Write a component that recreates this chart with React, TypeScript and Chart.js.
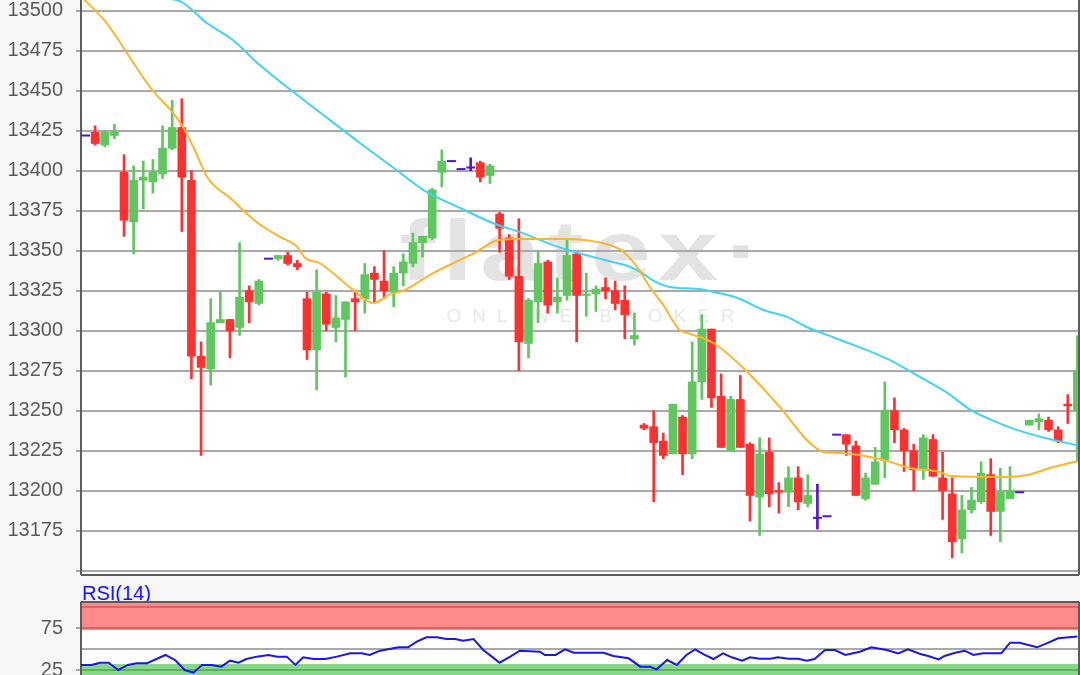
import React, { useEffect, useRef } from 'react';
import { Chart, registerables } from 'chart.js';

Chart.register(...registerables);

// ---------- data ----------
const OPEN = [
  13422, 13424, 13416, 13422, 13399, 13368, 13394, 13393, 13398, 13414,
  13427, 13394, 13284, 13276, 13305, 13307, 13302, 13325, 13317, 13345,
  13345, 13347, 13342, 13320, 13288, 13323, 13302, 13307, 13320, 13320,
  13336, 13331, 13324, 13336, 13342, 13355, 13358, 13399, 13406, 13401,
  13402, 13405, 13397, 13373, 13358, 13334, 13292, 13318, 13343, 13318,
  13322, 13348, 13322, 13323, 13327, 13325, 13319, 13295, 13241, 13240,
  13231, 13223, 13246, 13223, 13268, 13301, 13259, 13225, 13257, 13229,
  13196, 13224, 13200, 13199, 13208, 13192, 13183, 13184, 13235, 13235,
  13228, 13195, 13204, 13219, 13250, 13238, 13225, 13213, 13232, 13208,
  13198, 13170, 13188, 13193, 13210, 13187, 13195, 13199, 13241, 13243,
  13244, 13238, 13254, 13250,
];
const HIGH = [
  13422, 13428, 13425, 13429, 13410, 13403, 13406, 13407, 13428, 13444,
  13445, 13400, 13293, 13320, 13324, 13307, 13355, 13328, 13332, 13345,
  13347, 13349, 13344, 13324, 13338, 13324, 13322, 13318, 13324, 13342,
  13340, 13350, 13340, 13348, 13361, 13359, 13389, 13413, 13406, 13401,
  13408, 13406, 13404, 13374, 13360, 13370, 13320, 13350, 13344, 13333,
  13357, 13349, 13336, 13328, 13333, 13331, 13328, 13311, 13242, 13250,
  13236, 13254, 13247, 13293, 13310, 13301, 13273, 13259, 13272, 13230,
  13233, 13233, 13205, 13215, 13215, 13210, 13204, 13184, 13235, 13235,
  13231, 13211, 13227, 13268, 13258, 13239, 13229, 13235, 13235, 13224,
  13208, 13197, 13202, 13218, 13220, 13214, 13215, 13199, 13244, 13248,
  13246, 13240, 13260, 13297,
];
const LOW = [
  13422, 13416, 13415, 13420, 13359, 13348, 13376, 13386, 13395, 13413,
  13362, 13270, 13222, 13266, 13305, 13283, 13297, 13305, 13316, 13345,
  13344, 13341, 13338, 13282, 13263, 13300, 13293, 13271, 13300, 13311,
  13318, 13320, 13315, 13328, 13340, 13346, 13357, 13390, 13406, 13401,
  13400, 13393, 13392, 13349, 13332, 13275, 13283, 13305, 13311, 13311,
  13319, 13293, 13309, 13312, 13320, 13313, 13295, 13291, 13238, 13193,
  13220, 13223, 13210, 13220, 13257, 13252, 13227, 13225, 13227, 13181,
  13172, 13190, 13186, 13190, 13188, 13190, 13176, 13184, 13235, 13222,
  13197, 13194, 13204, 13208, 13230, 13212, 13200, 13207, 13209, 13182,
  13158, 13161, 13186, 13192, 13172, 13168, 13195, 13199, 13241, 13238,
  13237, 13230, 13242, 13218,
];
const CLOSE = [
  13422, 13417, 13424, 13424, 13369, 13394, 13396, 13399, 13414, 13427,
  13396, 13284, 13277, 13305, 13307, 13300, 13321, 13318, 13331, 13345,
  13347, 13342, 13340, 13288, 13324, 13304, 13308, 13318, 13318, 13335,
  13332, 13325, 13336, 13343, 13355, 13359, 13388, 13406, 13406, 13401,
  13402, 13396, 13403, 13364, 13334, 13293, 13319, 13342, 13316, 13321,
  13347, 13322, 13323, 13326, 13325, 13317, 13310, 13297, 13239, 13230,
  13222, 13254, 13223, 13268, 13301, 13258, 13227, 13257, 13227, 13197,
  13223, 13198, 13199, 13208, 13193, 13197, 13183, 13184, 13235, 13229,
  13197, 13208, 13218, 13250, 13238, 13225, 13213, 13233, 13209, 13200,
  13168, 13188, 13194, 13211, 13187, 13199, 13200, 13199, 13244, 13245,
  13238, 13231, 13253, 13275,
];

// moving averages: candle index positions and values
const MA_FAST_X = [-0.3, 2.2, 4.3, 6.7, 9.1, 10, 11.2, 12.7, 15.3, 16, 17.9, 20.2, 22, 22.8, 24.3, 27.8, 29.9, 31.6, 33, 36.1, 38.9, 40.4, 42.9, 45.4, 50, 53.1, 55.6, 57.2, 58.6, 60, 61.7, 62.5, 65.2, 68.3, 72.1, 74.9, 76.6, 78.4, 82.5, 85.6, 88.7, 89.8, 95.7, 97.8, 100.5, 103.1];
const MA_FAST_Y = [13508, 13492.3, 13473.6, 13452.3, 13436, 13428.5, 13414.8, 13395.4, 13381.6, 13377.3, 13367.3, 13358.6, 13352.3, 13345.5, 13342.3, 13325.5, 13317.3, 13322.7, 13325, 13336, 13344.2, 13348.6, 13356.7, 13357.3, 13357.3, 13355.5, 13350.5, 13340.5, 13327.3, 13316, 13300.4, 13298.6, 13292.3, 13276.7, 13252.3, 13231.7, 13224.2, 13223.6, 13219.8, 13214.2, 13211.7, 13209.2, 13208.6, 13209.8, 13214.8, 13218.5];
const MA_SLOW_X = [7.5, 9.8, 12.6, 15.3, 18.1, 25.4, 28.5, 32.3, 35.1, 38.9, 42.4, 45.4, 48.5, 50.6, 53.9, 56.4, 57.6, 59.1, 60.7, 63.7, 65.2, 67.7, 70.6, 72.85, 74.9, 78.4, 83.5, 85.9, 89.5, 91.9, 93.6, 96.7, 100.5, 103.1];
const MA_SLOW_Y = [13508, 13506, 13492.3, 13481.7, 13466, 13431.6, 13417.3, 13400.4, 13387.9, 13376.7, 13367, 13361, 13353.6, 13349.5, 13344.2, 13340.3, 13336.7, 13330.8, 13327.3, 13326, 13324.2, 13320.4, 13312.5, 13308.6, 13302.3, 13294.2, 13281.7, 13273.6, 13261.1, 13250.5, 13245.5, 13238, 13231.7, 13228.3];

// RSI(14)
const RSI_X = [-0.6, 0.6, 1.5, 2.4, 3.4, 4.4, 5.3, 6.4, 8.3, 9.3, 10.3, 11.2, 12.1, 13.1, 14.1, 15, 15.9, 16.7, 17.8, 19, 19.9, 20.9, 21.8, 22.6, 23.7, 24.9, 26.1, 27.5, 28.7, 29.5, 30.6, 32.5, 33.5, 34.4, 35.4, 36.5, 37.5, 38.4, 39.2, 40.3, 41.3, 42.2, 43, 44.1, 45.1, 47.2, 47.7, 48.8, 49.8, 50.7, 53.8, 54.8, 56.4, 57.6, 58.6, 59.3, 60.4, 61.4, 62.4, 63.3, 64.2, 65.2, 66.2, 67.1, 68.2, 69, 70, 71.1, 71.9, 73, 74, 74.9, 75.7, 76.8, 77.8, 78.9, 80.4, 81.6, 83.2, 84.4, 85.4, 86.7, 87.5, 88.6, 89.2, 90.3, 91.3, 92.2, 93.2, 95.1, 96, 97, 98.8, 99.8, 101, 103];
const RSI_Y = [31, 31, 33.7, 33.7, 25, 31, 33, 33, 42.9, 36.9, 25, 21.8, 31, 31, 29, 36.1, 33.7, 38.1, 40.9, 42.9, 40.9, 40.9, 31, 40.1, 38.1, 38.1, 40.9, 44.8, 44.8, 42.9, 48, 52, 52, 58.7, 63.9, 63.9, 61.9, 61.9, 59.9, 61.9, 48.8, 40.9, 33.7, 40.9, 48, 46.8, 42.9, 42.9, 49.6, 45.6, 45.6, 41.7, 38.9, 29, 29, 25.8, 36.9, 31, 42.9, 49.6, 43.7, 38.1, 44.8, 40.1, 36.1, 40.1, 38.5, 38.5, 40.1, 38.5, 38.5, 36.1, 38.1, 48.8, 48.8, 42.9, 46.8, 52, 48.8, 44.8, 49.6, 44.1, 41.7, 37.7, 41.7, 45.6, 48, 42.9, 44.8, 44.8, 57.5, 57.5, 52, 56.7, 62.7, 65];

const PRICE_TICKS = [13150, 13175, 13200, 13225, 13250, 13275, 13300, 13325, 13350, 13375, 13400, 13425, 13450, 13475, 13500];
const PRICE_HIDDEN_LABEL = 13150;
const RSI_TICKS = [25, 50, 75];
const RSI_HIDDEN_LABEL = 50;
const RSI_OVERBOUGHT = 75;
const RSI_TOP_LINE = 100;
const RSI_OVERSOLD = 25;
const RSI_OB_FILL_FROM = 72.6;
const RSI_OS_FILL_TO = 32.1;

// ---------- view ranges / styles ----------
const X_MIN = -0.467;
const X_MAX = 103.06;
const PRICE_MIN = 13147.9;
const PRICE_MAX = 13506.7;
const RSI_MIN = 19.05;
const RSI_MAX = 104.76;

const UP = '#5ec75e';
const DOWN = '#ff3030';
const DOJI = '#5214d4';
const ORANGE = '#ffb42a';
const CYAN = '#3fd3f4';
const RSI_BLUE = '#1717ee';
const GRID = '#a9a9a9';
const AXIS = '#5c5c5c';
const LABEL = '#5a5a5a';
const FONT = "'Liberation Sans', Arial, sans-serif";

const idx = OPEN.map((_, i) => i);
const candleColor = (i: number) =>
  CLOSE[i] > OPEN[i] ? UP : CLOSE[i] < OPEN[i] ? DOWN : DOJI;

function fitSpaced(ctx: CanvasRenderingContext2D, text: string, x: number, y: number, width: number, sx = 1) {
  ctx.save();
  ctx.translate(x, y);
  ctx.scale(sx, 1);
  (ctx as any).letterSpacing = '0px';
  const w0 = ctx.measureText(text).width;
  const ls = (width / sx - w0) / Math.max(1, text.length - 1);
  (ctx as any).letterSpacing = ls + 'px';
  ctx.fillText(text, 0, 0);
  ctx.restore();
}

const priceDecor = {
  id: 'priceDecor',
  beforeDraw(chart: any) {
    const { ctx, chartArea: a } = chart;
    ctx.save();
    ctx.fillStyle = '#ffffff';
    ctx.fillRect(a.left, a.top, a.right - a.left, a.bottom - a.top);
    const cx = (a.left + a.right) / 2;
    const cy = (a.top + a.bottom) / 2;
    ctx.textAlign = 'left';
    ctx.textBaseline = 'alphabetic';
    ctx.fillStyle = '#e3e3e3';
    ctx.font = `bold 86px ${FONT}`;
    fitSpaced(ctx, 'flatex·', cx - 180, cy - 7, 362, 1.25);
    ctx.fillStyle = '#e8e8e8';
    ctx.font = `19px ${FONT}`;
    ctx.textBaseline = 'middle';
    fitSpaced(ctx, 'ONLINE BROKER', cx - 133, cy + 30, 288);
    ctx.restore();
  },
  afterDraw(chart: any) {
    const { ctx, chartArea: a } = chart;
    ctx.save();
    ctx.strokeStyle = AXIS;
    ctx.lineWidth = 2;
    ctx.beginPath();
    ctx.moveTo(a.left, a.bottom + 1);
    ctx.lineTo(a.right + 1, a.bottom + 1);
    ctx.moveTo(a.right + 1, a.top);
    ctx.lineTo(a.right + 1, a.bottom + 1);
    ctx.stroke();
    ctx.restore();
  },
};

const rsiDecor = {
  id: 'rsiDecor',
  beforeDraw(chart: any) {
    const { ctx, chartArea: a, scales } = chart;
    const y = scales.y;
    ctx.save();
    ctx.fillStyle = '#ffffff';
    ctx.fillRect(a.left, a.top, a.right - a.left, a.bottom - a.top);
    ctx.fillStyle = '#ff8a8a';
    const obY = y.getPixelForValue(RSI_OB_FILL_FROM);
    ctx.fillRect(a.left, a.top, a.right - a.left, obY - a.top);
    ctx.fillStyle = '#88d688';
    const osY = y.getPixelForValue(RSI_OS_FILL_TO);
    ctx.fillRect(a.left, osY, a.right - a.left, a.bottom - osY);
    ctx.lineWidth = 2;
    ctx.strokeStyle = '#dc6464';
    ctx.beginPath();
    [RSI_TOP_LINE, RSI_OVERBOUGHT].forEach((v) => {
      const p = Math.round(y.getPixelForValue(v));
      ctx.moveTo(a.left, p);
      ctx.lineTo(a.right, p);
    });
    ctx.stroke();
    ctx.strokeStyle = '#5cb35c';
    ctx.beginPath();
    const p25 = Math.round(y.getPixelForValue(RSI_OVERSOLD));
    ctx.moveTo(a.left, p25);
    ctx.lineTo(a.right, p25);
    ctx.stroke();
    ctx.restore();
  },
  afterDraw(chart: any) {
    const { ctx, chartArea: a } = chart;
    ctx.save();
    ctx.strokeStyle = AXIS;
    ctx.lineWidth = 2;
    ctx.beginPath();
    ctx.moveTo(a.left, a.top - 1);
    ctx.lineTo(a.right + 1, a.top - 1);
    ctx.moveTo(a.right + 1, a.top - 1);
    ctx.lineTo(a.right + 1, a.bottom);
    ctx.stroke();
    ctx.restore();
  },
};

export default function App() {
  const priceRef = useRef<HTMLCanvasElement>(null);
  const rsiRef = useRef<HTMLCanvasElement>(null);

  useEffect(() => {
    const colors = idx.map(candleColor);
    const wicks = idx.map((i) => ({ x: i, y: [LOW[i], HIGH[i]] }));
    const bodyIdx = idx.filter((i) => OPEN[i] !== CLOSE[i]);
    const bodies = bodyIdx.map((i) => ({ x: i, y: [OPEN[i], CLOSE[i]] }));
    const bodyColors = bodyIdx.map(candleColor);
    const dojis = idx.filter((i) => OPEN[i] === CLOSE[i]).map((i) => ({ x: i, y: CLOSE[i] }));
    const maFast = MA_FAST_X.map((x, k) => ({ x, y: MA_FAST_Y[k] }));
    const maSlow = MA_SLOW_X.map((x, k) => ({ x, y: MA_SLOW_Y[k] }));
    const rsi = RSI_X.slice(0, Math.min(RSI_X.length, RSI_Y.length)).map((x, k) => ({ x, y: RSI_Y[k] }));

    const xScale = { type: 'linear' as const, min: X_MIN, max: X_MAX, display: false, offset: false, grid: { offset: false } };

    const price = new Chart(priceRef.current!, {
      type: 'bar',
      data: {
        datasets: [
          { type: 'line', data: maFast, borderColor: ORANGE, borderWidth: 2, pointRadius: 0, cubicInterpolationMode: 'monotone', order: 0 } as any,
          { type: 'line', data: maSlow, borderColor: CYAN, borderWidth: 2, pointRadius: 0, cubicInterpolationMode: 'monotone', order: 0 } as any,
          { type: 'line', data: dojis, showLine: false, pointStyle: 'line', pointRadius: 4.5, pointBorderWidth: 2, pointBorderColor: DOJI, pointBackgroundColor: DOJI, order: 1 } as any,
          { type: 'bar', data: bodies, backgroundColor: bodyColors, barThickness: 8, grouped: false, borderWidth: 0, order: 1 } as any,
          { type: 'bar', data: wicks, backgroundColor: colors, barThickness: 2, grouped: false, borderWidth: 0, order: 2 } as any,
        ],
      },
      options: {
        animation: false,
        responsive: false,
        maintainAspectRatio: false,
        events: [],
        layout: { autoPadding: false, padding: { top: 0, right: 2, bottom: 4, left: 0 } },
        plugins: { legend: { display: false }, tooltip: { enabled: false } },
        scales: {
          x: xScale,
          y: {
            type: 'linear',
            position: 'left',
            min: PRICE_MIN,
            max: PRICE_MAX,
            afterBuildTicks: (s: any) => { s.ticks = PRICE_TICKS.map((v) => ({ value: v })); },
            afterFit: (s: any) => { s.width = 81; s.paddingTop = 0; s.paddingBottom = 0; },
            ticks: {
              padding: 13,
              color: LABEL,
              autoSkip: false,
              font: { family: FONT, size: 20 },
              callback: (v: any) => (v === PRICE_HIDDEN_LABEL ? '' : String(v)),
            },
            grid: { color: GRID, lineWidth: 2, tickLength: 5, tickColor: GRID, drawTicks: true },
            border: { display: true, color: AXIS, width: 2 },
          },
        },
      } as any,
      plugins: [priceDecor],
    });

    const rsiChart = new Chart(rsiRef.current!, {
      type: 'line',
      data: {
        datasets: [
          { data: rsi, borderColor: RSI_BLUE, borderWidth: 2, pointRadius: 0, tension: 0 },
        ],
      },
      options: {
        animation: false,
        responsive: false,
        maintainAspectRatio: false,
        events: [],
        layout: { autoPadding: false, padding: { top: 25, right: 2, bottom: 0, left: 0 } },
        plugins: { legend: { display: false }, tooltip: { enabled: false } },
        scales: {
          x: xScale,
          y: {
            type: 'linear',
            position: 'left',
            min: RSI_MIN,
            max: RSI_MAX,
            afterBuildTicks: (s: any) => { s.ticks = RSI_TICKS.map((v) => ({ value: v })); },
            afterFit: (s: any) => { s.width = 81; s.paddingTop = 0; s.paddingBottom = 0; },
            ticks: {
              padding: 13,
              color: LABEL,
              autoSkip: false,
              font: { family: FONT, size: 20 },
              callback: (v: any) => (v === RSI_HIDDEN_LABEL ? '' : String(v)),
            },
            grid: {
              color: (c: any) => (c.tick && c.tick.value === RSI_HIDDEN_LABEL ? GRID : 'rgba(0,0,0,0)'),
              tickColor: (c: any) => (c.tick && c.tick.value === RSI_HIDDEN_LABEL ? 'rgba(0,0,0,0)' : GRID),
              lineWidth: 2,
              tickLength: 5,
            },
            border: { display: true, color: AXIS, width: 2 },
          },
        },
      } as any,
      plugins: [rsiDecor],
    });

    return () => {
      price.destroy();
      rsiChart.destroy();
    };
  }, []);

  return (
    <div
      style={{
        position: 'fixed',
        left: 0,
        top: 0,
        width: 1080,
        height: 675,
        overflow: 'hidden',
        background: '#f7f7f7',
      }}
    >
      <canvas ref={priceRef} width={1080} height={578} style={{ position: 'absolute', left: 0, top: 0, display: 'block' }} />
      <div
        style={{
          position: 'absolute',
          left: 82,
          top: 583,
          fontFamily: FONT,
          fontSize: 20,
          lineHeight: '20px',
          color: '#1414ff',
          whiteSpace: 'nowrap',
        }}
      >
        RSI(14)
      </div>
      <canvas ref={rsiRef} width={1080} height={97} style={{ position: 'absolute', left: 0, top: 578, display: 'block' }} />
    </div>
  );
}
